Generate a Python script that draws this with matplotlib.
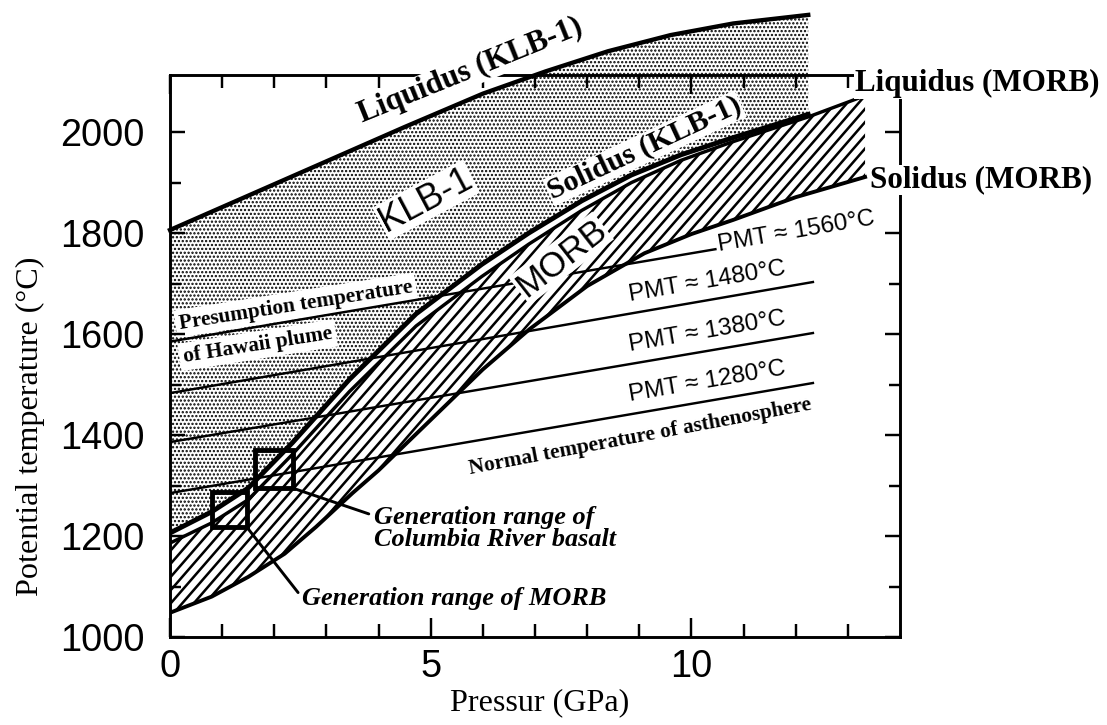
import numpy as np
import matplotlib
matplotlib.use("Agg")
import matplotlib.pyplot as plt
from matplotlib.patches import Rectangle
from matplotlib.collections import LineCollection

# values: pressure (GPa) / potential temperature (degC)
liq_klb_p = [0, 1.5, 3.0, 4.5, 6.0, 7.2, 8.4, 9.6, 10.8, 12.24]
liq_klb_t = [1806, 1874, 1942, 2010, 2076, 2120, 2160, 2192, 2215, 2232]

sol_klb_p = [0, 0.8, 1.5, 2.35, 3.44, 4.72, 5.98, 6.88, 7.9, 8.85, 9.8, 10.77, 12.24]
sol_klb_t = [1206, 1248, 1295, 1385, 1510, 1640, 1738, 1800, 1864, 1915, 1955, 1988, 2035]

liq_morb_p = [0, 0.8, 1.5, 2.35, 3.44, 4.72, 5.98, 6.88, 7.9, 8.85, 9.8, 10.77, 12.24, 13.33]
liq_morb_t = [1186, 1226, 1272, 1362, 1486, 1616, 1714, 1778, 1845, 1900, 1944, 1980, 2030, 2072]

sol_morb_p = [0, 0.8, 1.5, 2.2, 2.8, 3.5, 4.0, 5.0, 6.0, 6.9, 8.0, 9.1, 10.0, 10.8, 12.0, 13.33]
sol_morb_t = [1048, 1080, 1119, 1165, 1218, 1285, 1330, 1430, 1530, 1610, 1695, 1760, 1798, 1826, 1871, 1911]

# mantle potential temperature adiabats
pmt_labels = ['PMT ≈ 1280°C', 'PMT ≈ 1380°C', 'PMT ≈ 1480°C', 'PMT ≈ 1560°C']
pmt_t0 = [1285, 1386, 1483, 1585]
pmt_p1 = [12.33, 12.33, 12.33, 10.46]
pmt_t1 = [1503, 1602, 1703, 1768]

# generation ranges (boxes)
box_names = ['Generation range of MORB', 'Generation range of\nColumbia River basalt']
box_p = [(0.80, 1.47), (1.63, 2.35)]
box_t = [(1218, 1287), (1295, 1370)]

plt.rcParams['font.family'] = ['Liberation Serif', 'DejaVu Serif']
plt.rcParams['hatch.linewidth'] = 1.6
SANS = ['Liberation Sans', 'DejaVu Sans']

DPI = 70
FIG_W, FIG_H = 1107, 725
fig = plt.figure(figsize=(FIG_W / DPI, FIG_H / DPI), dpi=DPI)
ax = fig.add_axes([170 / FIG_W, 1 - 637 / FIG_H, 730 / FIG_W, 562 / FIG_H])

# KLB-1 melting interval (stippled), runs above the frame as in the original
ax.fill(liq_klb_p + sol_klb_p[::-1], liq_klb_t + sol_klb_t[::-1],
        facecolor='white', edgecolor='black', hatch='...', linewidth=0,
        zorder=1, clip_on=False)

# MORB melting interval: white field + steep diagonal hatching clipped to it
morb_patch = ax.fill(liq_morb_p + sol_morb_p[::-1], liq_morb_t + sol_morb_t[::-1],
                     facecolor='white', edgecolor='none', zorder=1.2)[0]
pos = ax.get_position()
W, H = pos.width * FIG_W, pos.height * FIG_H
run = H / np.tan(np.deg2rad(49))
segs = [[(x0 / W, 0), ((x0 + run) / W, 1)] for x0 in np.arange(-run, W, 11.5)]
hatch = LineCollection(segs, colors='black', linewidths=2.6,
                       transform=ax.transAxes, zorder=1.3)
ax.add_collection(hatch, autolim=False)
hatch.set_clip_path(morb_patch)

# adiabats
for t0, p1, t1 in zip(pmt_t0, pmt_p1, pmt_t1):
    ax.plot([0, p1], [t0, t1], color='black', lw=2.5, zorder=2)

# phase boundaries
ax.plot(liq_klb_p, liq_klb_t, 'k-', lw=4.5, zorder=3, clip_on=False)
ax.plot(sol_klb_p, sol_klb_t, 'k-', lw=5, zorder=3)
ax.plot(liq_morb_p, liq_morb_t, 'k-', lw=3.5, zorder=3)
ax.plot(sol_morb_p, sol_morb_t, 'k-', lw=4, zorder=3)

# PMT labels
for i, lab in enumerate(pmt_labels):
    slope = (pmt_t1[i] - pmt_t0[i]) / pmt_p1[i]
    if i < 3:
        lp = 8.83
        ax.text(lp, pmt_t0[i] + slope * lp + 16, lab, family=SANS, fontsize=25,
                rotation=9.7, rotation_mode='anchor', ha='left', va='bottom', zorder=4)
    else:
        ax.text(pmt_p1[i] + 0.04, pmt_t1[i] + 8, lab, family=SANS, fontsize=25,
                rotation=9.7, rotation_mode='anchor', ha='left', va='center', zorder=4,
                bbox=dict(facecolor='white', edgecolor='none', pad=0.5))

# generation boxes + leaders
label_pos = [(2.54, 1077), (3.92, 1215)]
rel = [(0, 0.5), (0, 0.78)]
for (p0, p1), (t0, t1), name, xyt, rp in zip(box_p, box_t, box_names, label_pos, rel):
    ax.add_patch(Rectangle((p0, t0), p1 - p0, t1 - t0, facecolor='none',
                           edgecolor='black', lw=5, zorder=5))
    ax.annotate(name, xy=(p1, t0), xytext=xyt, textcoords='data',
                fontsize=27, fontweight='bold', style='italic', ha='left', va='center',
                linespacing=0.95, zorder=5,
                arrowprops=dict(arrowstyle='-', lw=3, color='black', relpos=rp,
                                shrinkA=4, shrinkB=0))

# field labels
white = dict(facecolor='white', edgecolor='none', pad=1)
ax.text(5.76, 2121, 'Liquidus (KLB-1)', rotation=22, fontsize=32, fontweight='bold',
        ha='center', va='center', rotation_mode='anchor', bbox=white, zorder=4)
ax.text(9.1, 1968, 'Solidus (KLB-1)', rotation=25, fontsize=31, fontweight='bold',
        ha='center', va='center', rotation_mode='anchor', bbox=white, zorder=4)
ax.text(13.14, 2096, 'Liquidus (MORB)', fontsize=32, fontweight='bold',
        ha='left', va='center', bbox=white, zorder=6)
ax.text(13.42, 1905, 'Solidus (MORB)', fontsize=32, fontweight='bold',
        ha='left', va='center', bbox=white, zorder=6)
ax.text(4.91, 1865, 'KLB-1', family=SANS, rotation=28, fontsize=37,
        ha='center', va='center', rotation_mode='anchor', bbox=white, zorder=2.5)
ax.text(7.5, 1750, 'MORB', family=SANS, rotation=38, fontsize=36,
        ha='center', va='center', rotation_mode='anchor', bbox=white, zorder=2.5)
ax.text(2.41, 1657, 'Presumption temperature', rotation=9, fontsize=22, fontweight='bold',
        ha='center', va='center', rotation_mode='anchor',
        bbox=dict(facecolor='white', edgecolor='none', pad=4), zorder=1.5)
ax.text(1.68, 1578, 'of Hawaii plume', rotation=9, fontsize=22, fontweight='bold',
        ha='center', va='center', rotation_mode='anchor',
        bbox=dict(facecolor='white', edgecolor='none', pad=4), zorder=1.5)
ax.text(9.02, 1396, 'Normal temperature of asthenosphere', rotation=10.7, fontsize=22,
        fontweight='bold', ha='center', va='center', rotation_mode='anchor', zorder=4)

# axes
ax.set_xlim(0, 14)
ax.set_ylim(1000, 2113)
ax.set_xticks([0, 5, 10])
ax.set_xticks(range(1, 14), minor=True)
ax.set_yticks(range(1000, 2001, 200))
ax.set_yticks(range(1100, 2000, 200), minor=True)
ax.tick_params(which='both', direction='in', top=True, right=True, width=2.5,
               labelsize=39, labelfontfamily='Liberation Sans')
ax.tick_params(axis='x', which='major', length=20, pad=12)
ax.tick_params(axis='x', which='minor', length=13)
ax.tick_params(axis='y', which='major', length=15, pad=26)
ax.tick_params(axis='y', which='minor', length=11)
for s in ax.spines.values():
    s.set_linewidth(3)

ax.set_xlabel('Pressur (GPa)', fontsize=33)
ax.set_ylabel('Potential temperature (°C)', fontsize=33)
ax.xaxis.set_label_coords(0.507, -0.091)
ax.yaxis.set_label_coords(-0.171, 0.375)

fig.savefig('out.png', dpi=DPI)
